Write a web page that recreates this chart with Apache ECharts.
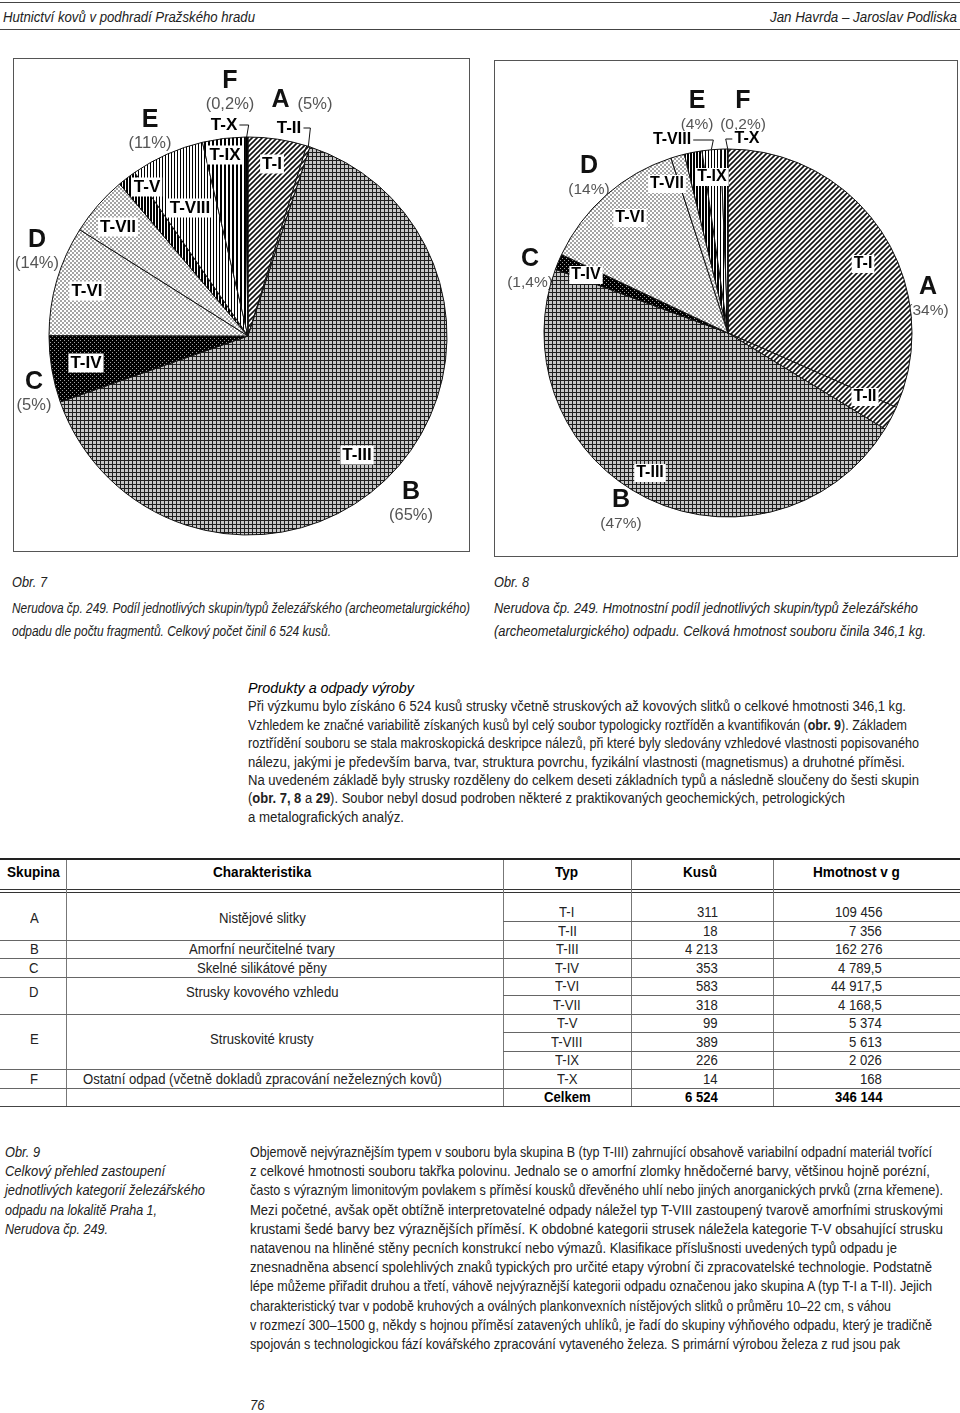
<!DOCTYPE html>
<html><head><meta charset="utf-8">
<script src="https://cdn.jsdelivr.net/npm/echarts@6/dist/echarts.min.js"></script>
<style>
html,body{margin:0;padding:0;background:#fff;}
body{width:960px;height:1413px;position:relative;overflow:hidden;font-family:"Liberation Sans",Arial,sans-serif;color:#222;}
.ln{position:absolute;white-space:nowrap;transform-origin:0 50%;line-height:16px;}
.rule{position:absolute;background:#333;}
.box{position:absolute;border:1.4px solid #555;box-sizing:border-box;}
#chart{position:absolute;left:0;top:40px;width:960px;height:525px;}
</style></head><body>
<div class="box" style="left:13px;top:58px;width:457px;height:494px;"></div>
<div class="box" style="left:494px;top:60px;width:464px;height:497px;"></div>
<div id="chart"></div>
<script>
// ---------------- DATA ----------------
const types = ['T-I','T-II','T-III','T-IV','T-VI','T-VII','T-V','T-VIII','T-IX','T-X'];
const typeGroup = ['A','A','B','C','D','D','E','E','E','F'];
const counts = [311,18,4213,353,583,318,99,389,226,14];
const weights = [109456,7356,162276,4789.5,44917.5,4168.5,5374,5613,2026,168];
const groups = ['A','B','C','D','E','F'];
const groupDesc = ['Nistějové slitky','Amorfní neurčitelné tvary','Skelné silikátové pěny','Strusky kovového vzhledu','Struskovité krusty','Ostatní odpad (včetně dokladů zpracování neželezných kovů)'];
const pctLabelsCount = ['(5%)','(65%)','(5%)','(14%)','(11%)','(0,2%)'];
const pctLabelsWeight = ['(34%)','(47%)','(1,4%)','(14%)','(4%)','(0,2%)'];
const totals = [6524, 346144];
const tableHeader = ['Skupina','Charakteristika','Typ','Kusů','Hmotnost v g'];

// ---------------- LAYOUT / STYLE CONFIG ----------------
const pieCfg = [
  { center:[248,296], r:199, typeFont:17, pctFont:16.5,
    typePos:{'T-I':[24,-172],'T-II':[41,-208],'T-III':[109,119],'T-IV':[-162,27],'T-VI':[-161,-45],'T-VII':[-130,-109],'T-V':[-101,-149],'T-VIII':[-58,-128],'T-IX':[-23,-181],'T-X':[-24,-211]},
    leaders:{'T-II':'right','T-X':'right'},
    groupPos:{A:[54,-236],B:[163,165],C:[-214,55],D:[-211,-87],E:[-98,-207],F:[-18,-246]},
    inline:{A:true} },
  { center:[728,293], r:184, typeFont:16, pctFont:15.5,
    typePos:{'T-I':[135,-69],'T-II':[137,64],'T-III':[-78,140],'T-IV':[-142,-58],'T-VI':[-98,-115],'T-VII':[-61,-149],'T-VIII':[-56,-193],'T-IX':[-16,-156],'T-X':[19,-194]},
    leaders:{'T-VIII':'right','T-X':'left'},
    groupPos:{A:[200,-37],B:[-107,176],C:[-198,-65],D:[-139,-158],E:[-31,-223],F:[15,-223]},
    inline:{} }
];

// ---------------- PATTERNS ----------------
function mk(w,h,draw){const c=document.createElement('canvas');c.width=w;c.height=h;const g=c.getContext('2d');draw(g,w,h);return {image:c,repeat:'repeat'};}
const diag = mk(5,5,(g,w,h)=>{g.fillStyle='#fff';g.fillRect(0,0,w,h);g.strokeStyle='#111';g.lineWidth=1.6;g.beginPath();g.moveTo(-1,h+1);g.lineTo(w+1,-1);g.moveTo(-1,1);g.lineTo(1,-1);g.moveTo(w-1,h+1);g.lineTo(w+1,h-1);g.stroke();});
const grid = mk(4,4,(g)=>{g.fillStyle='#c6c6c6';g.fillRect(0,0,4,4);g.fillStyle='#1e1e1e';g.fillRect(0,0,4,1);g.fillRect(0,0,1,4);});
const dots = mk(4,4,(g)=>{g.fillStyle='#000';g.fillRect(0,0,4,4);g.fillStyle='#a0a0a0';g.fillRect(0,0,1,1);g.fillRect(2,2,1,1);});
const check = mk(4,4,(g)=>{g.fillStyle='#fff';g.fillRect(0,0,4,4);g.fillStyle='#a4a4a4';g.fillRect(0,0,2,2);g.fillRect(2,2,2,2);});
const vl1 = mk(3,1,(g)=>{g.fillStyle='#fff';g.fillRect(0,0,3,1);g.fillStyle='#000';g.fillRect(0,0,1,1);});
const vl2 = mk(3,1,(g)=>{g.fillStyle='#fff';g.fillRect(0,0,3,1);g.fillStyle='#000';g.fillRect(0,0,2,1);});
const vl3 = mk(4,1,(g)=>{g.fillStyle='#fff';g.fillRect(0,0,4,1);g.fillStyle='#000';g.fillRect(0,0,2,1);});
const patterns = {'T-I':diag,'T-II':diag,'T-III':grid,'T-IV':dots,'T-VI':check,'T-VII':check,'T-V':vl2,'T-VIII':vl1,'T-IX':vl3,'T-X':'#000'};

// ---------------- CHART ----------------
function midAngle(vals, idx){let s=0,c=0;vals.forEach((v,i)=>{s+=v;if(i<idx)c+=v;});return 2*Math.PI*(c+vals[idx]/2)/s;}
const fontFam = 'Liberation Sans, Arial, sans-serif';
function typeSeries(k){
  const cfg=pieCfg[k]; const vals=k===0?counts:weights;
  return {
    type:'pie', center:cfg.center, radius:[0,cfg.r], startAngle:90, clockwise:true,
    avoidLabelOverlap:false, silent:true, animation:false, z:3,
    itemStyle:{borderColor:'#111',borderWidth:1},
    emphasis:{disabled:true},
    label:{show:true, position:'inside', formatter:'{b}', color:'#000', fontFamily:fontFam, fontWeight:'bold',
      fontSize:cfg.typeFont, lineHeight:cfg.typeFont+1, backgroundColor:'#fff', padding:[1,2,0,2], textBorderWidth:0},
    labelLine:{show:false},
    data: types.map((t,i)=>{
      const d={name:t, value:vals[i], itemStyle:{color:patterns[t]}};
      if(!cfg.typePos[t]) d.label={show:false};
      if(cfg.leaders[t]){ d.label={position:'outside'}; d.labelLine={show:true,length:4,length2:4,lineStyle:{color:'#111',width:1}}; }
      return d;
    }),
    labelLayout:function(p){
      const t=types[p.dataIndex]; const pos=cfg.typePos[t]; if(!pos) return {};
      const x=cfg.center[0]+pos[0], y=cfg.center[1]+pos[1];
      const res={x:x,y:y,align:'center',verticalAlign:'middle'};
      const side=cfg.leaders[t];
      if(side){
        const w=p.labelRect.width; const th=midAngle(vals,p.dataIndex);
        const ex=cfg.center[0]+cfg.r*Math.sin(th), ey=cfg.center[1]-cfg.r*Math.cos(th);
        if(side==='right'){const lr=x+w/2; const cx=Math.max(ex+2,lr+4); res.labelLinePoints=[[ex,ey],[cx,y],[lr,y]];}
        else {const ll=x-w/2; const cx=Math.min(ex-2,ll-4); res.labelLinePoints=[[ex,ey],[cx,y],[ll,y]];}
      }
      return res;
    }
  };
}
function groupSeries(k){
  const cfg=pieCfg[k]; const vals=k===0?counts:weights; const pcts=k===0?pctLabelsCount:pctLabelsWeight;
  return {
    type:'pie', center:cfg.center, radius:[0,cfg.r], startAngle:90, clockwise:true,
    avoidLabelOverlap:false, silent:true, animation:false, z:1,
    itemStyle:{color:'rgba(0,0,0,0)',borderWidth:0},
    emphasis:{disabled:true},
    label:{show:true, position:'inside', textBorderWidth:0,
      formatter:function(p){const g=groups[p.dataIndex]; return cfg.inline[g]?('{big|'+g+'}{gap|}{pct|'+pcts[p.dataIndex]+'}'):('{big|'+g+'}\n{pct|'+pcts[p.dataIndex]+'}');},
      rich:{big:{fontSize:25,fontWeight:'bold',fontFamily:fontFam,color:'#111',lineHeight:26,verticalAlign:'bottom'},
            gap:{width:8},
            pct:{fontSize:cfg.pctFont,fontFamily:fontFam,color:'#555',lineHeight:19,verticalAlign:'bottom'}}},
    labelLine:{show:false},
    data: groups.map(g=>({name:g, value:vals.reduce((s,v,i)=>s+(typeGroup[i]===g?v:0),0)})),
    labelLayout:function(p){const pos=cfg.groupPos[groups[p.dataIndex]]; return {x:cfg.center[0]+pos[0], y:cfg.center[1]+pos[1], align:'center', verticalAlign:'middle'};}
  };
}
const chart=echarts.init(document.getElementById('chart'),null,{renderer:'canvas'});
chart.setOption({backgroundColor:'transparent', animation:false, series:[groupSeries(0),typeSeries(0),groupSeries(1),typeSeries(1)]});

// ---------------- TEXT HELPERS ----------------
function place(html,o){
  const el=document.createElement('div'); el.className='ln'; el.innerHTML=html;
  el.style.fontSize=(o.size||14)+'px'; if(o.italic) el.style.fontStyle='italic'; if(o.bold) el.style.fontWeight='bold';
  if(o.color) el.style.color=o.color;
  el.style.top=(o.y-8)+'px'; el.style.left='0px'; document.body.appendChild(el);
  const w=el.getBoundingClientRect().width;
  let s=o.scale||1; if(o.end!=null) s=(o.end-o.x)/w;
  const sw=w*s; let left=o.x;
  if(o.align==='center') left=o.x-sw/2; else if(o.align==='right') left=o.x-sw;
  el.style.left=left+'px'; el.style.transform='scaleX('+s+')';
  return el;
}
function measure(html,o){const el=place(html,o);const w=el.getBoundingClientRect().width;el.remove();return w;}
function rule(x1,x2,y,h,c){const d=document.createElement('div');d.className='rule';d.style.left=x1+'px';d.style.width=(x2-x1)+'px';d.style.top=y+'px';d.style.height=(h||1)+'px';if(c)d.style.background=c;document.body.appendChild(d);}
function vrule(x,y1,y2,c){const d=document.createElement('div');d.className='rule';d.style.left=x+'px';d.style.width='1px';d.style.top=y1+'px';d.style.height=(y2-y1)+'px';d.style.background=c||'#666';document.body.appendChild(d);}

// ---------------- PAGE HEADER ----------------
rule(0,960,2,1,'#444'); rule(0,960,29,1,'#444');
place('Hutnictví kovů v podhradí Pražského hradu',{x:3,y:17,end:255,italic:true,size:14.5});
place('Jan Havrda – Jaroslav Podliska',{x:770,y:17,end:957,italic:true,size:14.5});

// ---------------- CAPTIONS ----------------
const capL=['Obr. 7','Nerudova čp. 249. Podíl jednotlivých skupin/typů železářského (archeometalurgického)','odpadu dle počtu fragmentů. Celkový počet činil 6&nbsp;524 kusů.'];
const capLEnd=[null,470,331];
const capR=['Obr. 8','Nerudova čp. 249. Hmotnostní podíl jednotlivých skupin/typů železářského','(archeometalurgického) odpadu. Celková hmotnost souboru činila 346,1 kg.'];
const capREnd=[null,918,926];
const capY=[582,608,631];
capL.forEach((t,i)=>place(t,{x:12,y:capY[i],end:capLEnd[i]==null?undefined:capLEnd[i],scale:0.88,italic:true,size:14.5}));
capR.forEach((t,i)=>place(t,{x:494,y:capY[i],end:capREnd[i]==null?undefined:capREnd[i],scale:0.88,italic:true,size:14.5}));

// ---------------- BODY TEXT ----------------
const body=['Při výzkumu bylo získáno 6&nbsp;524 kusů strusky včetně struskových až kovových slitků o celkové hmotnosti 346,1 kg.',
'Vzhledem ke značné variabilitě získaných kusů byl celý soubor typologicky roztříděn a kvantifikován (<b>obr. 9</b>). Základem',
'roztřídění souboru se stala makroskopická deskripce nálezů, při které byly sledovány vzhledové vlastnosti popisovaného',
'nálezu, jakými je především barva, tvar, struktura povrchu, fyzikální vlastnosti (magnetismus) a druhotné příměsi.',
'Na uvedeném základě byly strusky rozděleny do celkem deseti základních typů a následně sloučeny do šesti skupin',
'(<b>obr. 7, 8</b> a <b>29</b>). Soubor nebyl dosud podroben některé z praktikovaných geochemických, petrologických',
'a metalografických analýz.'];
const bodyEnd=[906,907,919,905,919,845,404];
place('Produkty a odpady výroby',{x:248,y:688,end:414,italic:true,size:14.5,color:'#000'});
body.forEach((t,i)=>place(t,{x:248,y:688+18.4*(i+1),end:bodyEnd[i],size:14}));

// ---------------- TABLE ----------------
const colSep=[66,503,631,773];
const tBottom=1106;
rule(0,960,858,2,'#222');
rule(0,960,889,1,'#333'); rule(0,960,892,1,'#333');
colSep.forEach(x=>vrule(x,860,tBottom,'#777'));
const tScale = 359/measure(groupDesc[5],{x:0,y:-100,size:14});
const hdrX=[[7,'left'],[262,'center'],[567,'center'],[700,'center'],[856,'center']];
tableHeader.forEach((h,i)=>place(h,{x:hdrX[i][0],y:872,align:hdrX[i][1],bold:true,size:14.5,scale:tScale,color:'#000'}));
function fmt(n){const s=String(n).split('.');const ii=s[0].replace(/\B(?=(\d{3})+(?!\d))/g,'\u00a0');return s[1]?ii+','+s[1]:ii;}
const rowY=i=>912+18.5*i;
types.forEach((t,i)=>{
  const y=rowY(i);
  place(t,{x:567,y:y,align:'center',size:14,scale:tScale});
  place(fmt(counts[i]),{x:718,y:y,align:'right',size:14,scale:tScale});
  place(fmt(weights[i]),{x:882,y:y,align:'right',size:14,scale:tScale});
  const last = i===types.length-1 || typeGroup[i+1]!==typeGroup[i];
  rule(last?0:503,960,Math.round(y+9.25),1,'#666');
});
groups.forEach((g,gi)=>{
  const idx=typeGroup.map((x,i)=>x===g?i:-1).filter(i=>i>=0);
  let y=idx.reduce((s,i)=>s+rowY(i),0)/idx.length; if(idx.length>1) y-=3;
  place(g,{x:34,y:y,align:'center',size:14,scale:tScale});
  place(groupDesc[gi],{x:262,y:y,align:'center',size:14,scale:tScale});
});
const yT=rowY(10);
place('Celkem',{x:567,y:yT,align:'center',bold:true,size:14,scale:tScale,color:'#000'});
place(fmt(totals[0]),{x:718,y:yT,align:'right',bold:true,size:14,scale:tScale,color:'#000'});
place(fmt(totals[1]),{x:882,y:yT,align:'right',bold:true,size:14,scale:tScale,color:'#000'});
rule(0,960,tBottom,1,'#444');

// ---------------- OBR 9 + TEXT ----------------
const cap9=['Obr. 9','Celkový přehled zastoupení','jednotlivých kategorií železářského','odpadu na lokalitě Praha 1,','Nerudova čp. 249.'];
const cap9End=[null,165,205,157,108];
cap9.forEach((t,i)=>place(t,{x:5,y:1152+19.2*i,end:cap9End[i]==null?undefined:cap9End[i],scale:0.88,italic:true,size:14.5}));
const txt=['Objemově nejvýraznějším typem v souboru byla skupina B (typ T-III) zahrnující obsahově variabilní odpadní materiál tvořící',
'z celkové hmotnosti souboru takřka polovinu. Jednalo se o amorfní zlomky hnědočerné barvy, většinou hojně porézní,',
'často s výrazným limonitovým povlakem s příměsí kousků dřevěného uhlí nebo jiných anorganických prvků (zrna křemene).',
'Mezi početné, avšak opět obtížně interpretovatelné odpady náležel typ T-VIII zastoupený tvarově amorfními struskovými',
'krustami šedé barvy bez výraznějších příměsí. K obdobné kategorii strusek náležela kategorie T-V obsahující strusku',
'natavenou na hliněné stěny pecních konstrukcí nebo výmazů. Klasifikace příslušnosti uvedených typů odpadu je',
'znesnadněna absencí spolehlivých znaků typických pro určité etapy výrobní či zpracovatelské technologie. Podstatně',
'lépe můžeme přiřadit druhou a třetí, váhově nejvýraznější kategorii odpadu označenou jako skupina A (typ T-I a T-II). Jejich',
'charakteristický tvar v podobě kruhových a oválných plankonvexních nístějových slitků o průměru 10–22 cm, s váhou',
'v rozmezí 300–1500 g, někdy s hojnou příměsí zatavených uhlíků, je řadí do skupiny výhňového odpadu, který je tradičně',
'spojován s technologickou fází kovářského zpracování vytaveného železa. S primární výrobou železa z rud jsou pak'];
const txtEnd=[932,930,943,943,943,897,932,932,891,932,900];
txt.forEach((t,i)=>place(t,{x:250,y:1152+19.2*i,end:txtEnd[i],size:14.5}));
place('76',{x:250,y:1405,scale:0.9,italic:true,size:14.5});
</script>
</body></html>
